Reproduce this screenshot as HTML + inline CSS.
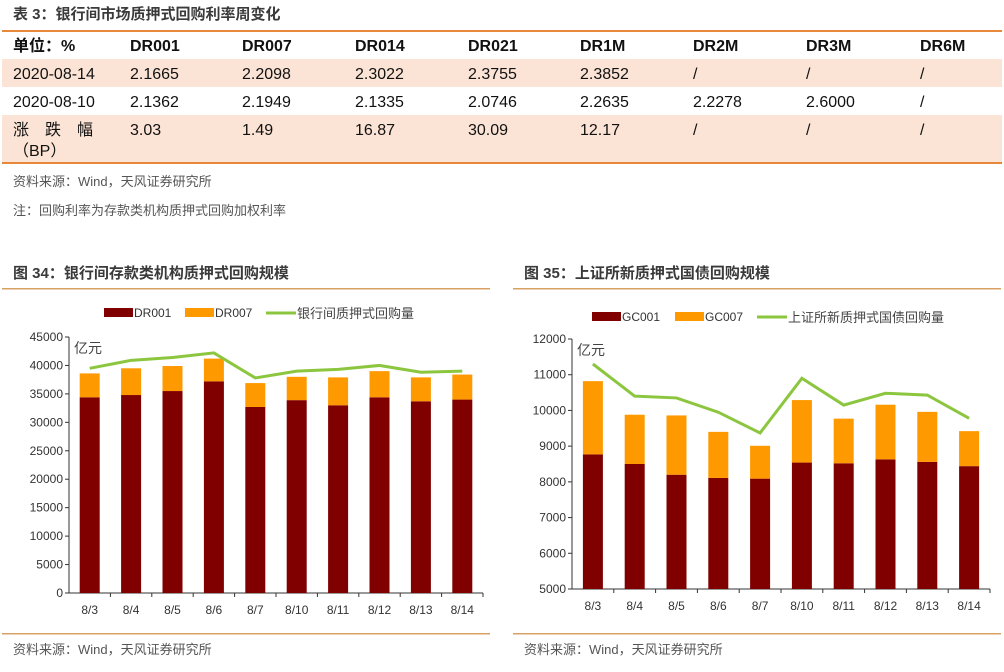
<!DOCTYPE html>
<html><head><meta charset="utf-8">
<style>
body{margin:0;width:1004px;height:667px;background:#fff;overflow:hidden;font-family:"Liberation Sans","Noto Sans CJK SC",sans-serif;}
svg text{font-family:"Liberation Sans","Noto Sans CJK SC",sans-serif;}
</style></head>
<body>
<svg id="page" width="1004" height="667" viewBox="0 0 1004 667" xmlns="http://www.w3.org/2000/svg">
<g>
<text x="13" y="19" font-size="15" font-weight="bold" fill="#3a3a3a">表 3：银行间市场质押式回购利率周变化</text>
<rect x="2" y="30" width="1000" height="2" fill="#e8883a"/>
<rect x="2" y="59" width="1000" height="28" fill="#fbe4d5"/>
<rect x="2" y="115" width="1000" height="47" fill="#fbe4d5"/>
<rect x="2" y="162" width="1000" height="2" fill="#e8883a"/>
<g id="tbl" font-size="16" fill="#111"></g>
<text x="13" y="186" font-size="13" fill="#555">资料来源：Wind，天风证券研究所</text>
<text x="13" y="215" font-size="13" fill="#555">注：回购利率为存款类机构质押式回购加权利率</text>
</g>
<text x="13" y="278" font-size="15" font-weight="bold" fill="#3a3a3a">图 34：银行间存款类机构质押式回购规模</text>
<text x="524" y="278" font-size="15" font-weight="bold" fill="#3a3a3a">图 35：上证所新质押式国债回购规模</text>
<rect x="2" y="288" width="488" height="1.5" fill="#d9a066"/>
<rect x="513" y="288" width="488" height="1.5" fill="#d9a066"/>
<rect x="2" y="633" width="488" height="1.5" fill="#d9a066"/>
<rect x="513" y="633" width="488" height="1.5" fill="#d9a066"/>
<text x="13" y="654" font-size="13" fill="#555">资料来源：Wind，天风证券研究所</text>
<text x="524" y="654" font-size="13" fill="#555">资料来源：Wind，天风证券研究所</text>
<g id="c1"></g>
<g id="c2"></g>
</svg>
<script>
const cats = ["8/3","8/4","8/5","8/6","8/7","8/10","8/11","8/12","8/13","8/14"];
const dr001 = [34400,34800,35500,37200,32700,33900,33000,34400,33700,34000];
const dr007 = [4200,4700,4400,4000,4200,4100,4900,4600,4200,4400];
const ibVolume = [39500,40900,41400,42200,37800,39000,39300,40000,38800,39000];
const ticks1 = [0,5000,10000,15000,20000,25000,30000,35000,40000,45000];
const gc001 = [8770,8500,8200,8110,8090,8540,8520,8630,8560,8440];
const gc007 = [2050,1380,1660,1290,920,1750,1250,1530,1400,980];
const shVolume = [11300,10400,10350,9950,9370,10900,10150,10480,10430,9780];
const ticks2 = [5000,6000,7000,8000,9000,10000,11000,12000];
const tableCols = [13,130,242,355,468,580,693,806,920];
const tableRows = [
 ["单位：%","DR001","DR007","DR014","DR021","DR1M","DR2M","DR3M","DR6M"],
 ["2020-08-14","2.1665","2.2098","2.3022","2.3755","2.3852","/","/","/"],
 ["2020-08-10","2.1362","2.1949","2.1335","2.0746","2.2635","2.2278","2.6000","/"],
 ["涨　跌　幅","3.03","1.49","16.87","30.09","12.17","/","/","/"]];
const NS="http://www.w3.org/2000/svg";
function el(p,t,a){const e=document.createElementNS(NS,t);for(const k in a)e.setAttribute(k,a[k]);p.appendChild(e);return e;}
const tb=document.getElementById('tbl');
const rowY=[51,79,107,135];
tableRows.forEach((r,i)=>r.forEach((c,j)=>{
 const t=el(tb,'text',{x:tableCols[j],y:rowY[i]});
 if(i==0)t.setAttribute('font-weight','bold');
 
 
 t.textContent=c;}));
const bp=el(tb,'text',{x:13,y:156});


bp.textContent="（BP）";

function chart(g,o){
 const x0=o.x0,x1=o.x1,yb=o.yb,yt=o.yt,min=o.ticks[0],max=o.ticks[o.ticks.length-1];
 const ys=v=>yb-(v-min)/(max-min)*(yb-yt);
 const cw=(x1-x0)/cats.length;
 const xs=i=>x0+cw*(i+0.5);
 o.ticks.forEach(v=>{
  const t=el(g,'text',{x:x0-6,y:ys(v)+4,'font-size':12,'text-anchor':'end',fill:'#333'});
  
  
  t.textContent=v;
  el(g,'line',{x1:x0-4,x2:x0,y1:ys(v),y2:ys(v),stroke:'#333'});
 });
 el(g,'line',{x1:x0,x2:x0,y1:yt,y2:yb,stroke:'#333'});
 el(g,'line',{x1:x0,x2:x1,y1:yb,y2:yb,stroke:'#333'});
 const u=el(g,'text',{x:x0+5,y:yt+16,'font-size':14,fill:'#444'});
 
 
 u.textContent='亿元';
 cats.forEach((c,i)=>{
  el(g,'line',{x1:x0+cw*(i+1),x2:x0+cw*(i+1),y1:yb,y2:yb+4,stroke:'#333'});
  const bw=20;
  const b1=el(g,'rect',{x:xs(i)-bw/2,y:ys(o.a[i]),width:bw,height:yb-ys(o.a[i]),fill:'#800000'});
  
  
  const b2=el(g,'rect',{x:xs(i)-bw/2,y:ys(o.a[i]+o.b[i]),width:bw,height:ys(o.a[i])-ys(o.a[i]+o.b[i]),fill:'#ff9900'});
  
  
  const t=el(g,'text',{x:xs(i),y:yb+21,'font-size':12,'text-anchor':'middle',fill:'#333'});
  
  
  t.textContent=c;
 });
 const ln=el(g,'polyline',{points:o.l.map((v,i)=>xs(i)+','+ys(v)).join(' '),fill:'none',stroke:'#8cc63f','stroke-width':3});
 
 
 const L=o.leg,ly=o.ly;
 const lg=el(g,'g',{});
 
 
 el(lg,'rect',{x:L[0],y:ly-5,width:29,height:9,fill:'#800000'});
 el(lg,'text',{x:L[0]+30,y:ly+4,'font-size':12,fill:'#333'}).textContent=o.na;
 el(lg,'rect',{x:L[1],y:ly-5,width:29,height:9,fill:'#ff9900'});
 el(lg,'text',{x:L[1]+30,y:ly+4,'font-size':12,fill:'#333'}).textContent=o.nb;
 el(lg,'line',{x1:L[2],x2:L[2]+30,y1:ly,y2:ly,stroke:'#8cc63f','stroke-width':3});
 el(lg,'text',{x:L[2]+31,y:ly+5,'font-size':13,fill:'#444'}).textContent=o.nl;
}
chart(document.getElementById('c1'),{x0:69,x1:483,yb:593,yt:337,ticks:ticks1,a:dr001,b:dr007,l:ibVolume,na:'DR001',nb:'DR007',nl:'银行间质押式回购量',leg:[104,185,266],ly:313});
chart(document.getElementById('c2'),{x0:572,x1:990,yb:589,yt:339,ticks:ticks2,a:gc001,b:gc007,l:shVolume,na:'GC001',nb:'GC007',nl:'上证所新质押式国债回购量',leg:[592,675,757],ly:317});
</script>
</body></html>
